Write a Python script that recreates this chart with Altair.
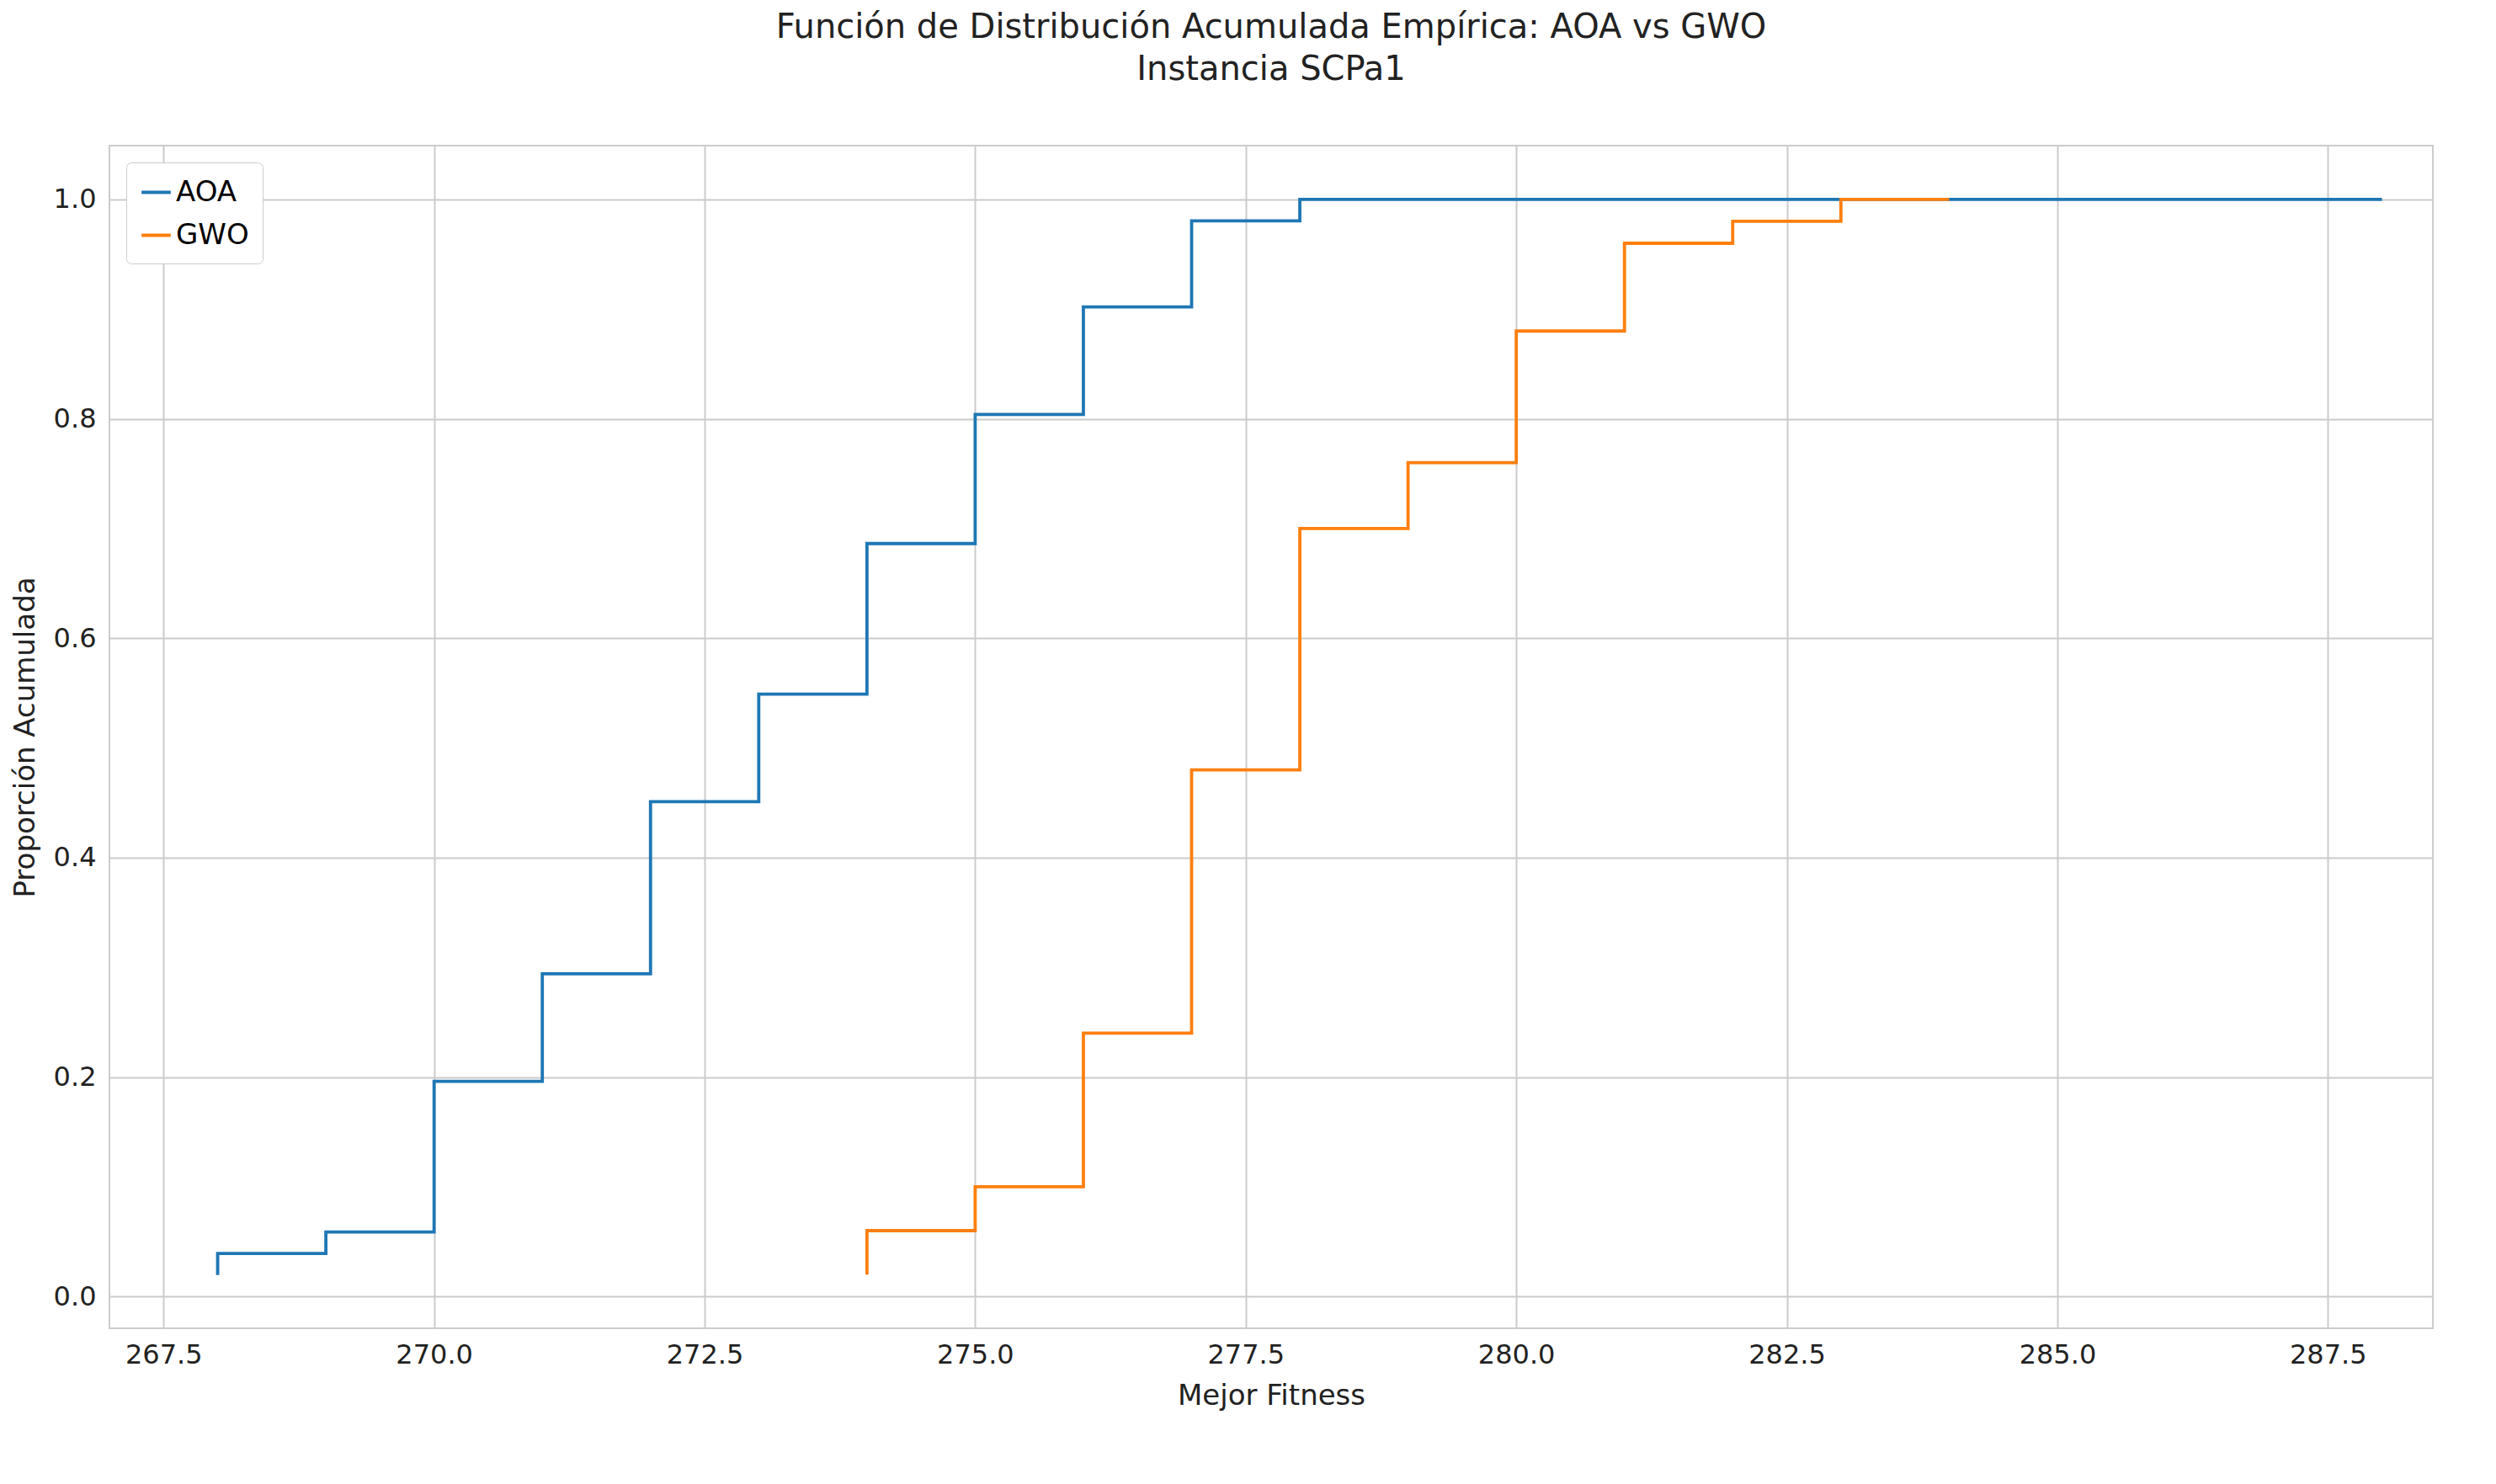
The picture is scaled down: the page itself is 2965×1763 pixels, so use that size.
import altair as alt
import pandas as pd

# distinct fitness values and how many runs hit each one (read from the ECDF steps)
aoa_values = [268, 269, 270, 271, 272, 273, 274, 275, 276, 277, 278]
aoa_counts = [2, 1, 7, 5, 8, 5, 7, 6, 5, 4, 1]
gwo_values = [274, 275, 276, 277, 278, 279, 280, 281, 282, 283]
gwo_counts = [3, 2, 7, 12, 11, 3, 6, 4, 1, 1]
# each curve is drawn on to a last point at 1.0
aoa_end = 288
gwo_end = 284


def ecdf_rows(name, values, counts, end):
    n = sum(counts)
    rows = []
    i = 0
    for v, c in zip(values, counts):
        for _ in range(c):
            i += 1
            rows.append({"alg": name, "x": v, "y": i / n, "order": i})
    rows.append({"alg": name, "x": end, "y": 1.0, "order": i + 1})
    return rows


df = pd.DataFrame(
    ecdf_rows("AOA", aoa_values, aoa_counts, aoa_end)
    + ecdf_rows("GWO", gwo_values, gwo_counts, gwo_end)
)

chart = (
    alt.Chart(
        df,
        title=alt.Title(
            ["Función de Distribución Acumulada Empírica: AOA vs GWO", "Instancia SCPa1"],
            fontSize=40,
            fontWeight="normal",
            color="#222222",
            offset=70,
            lineHeight=50,
        ),
    )
    .mark_line(interpolate="step-after", strokeWidth=3.8, clip=True)
    .encode(
        alt.X(
            "x:Q",
            title="Mejor Fitness",
            scale=alt.Scale(domain=[267.0, 288.47], nice=False, zero=False),
            axis=alt.Axis(values=[267.5 + 2.5 * k for k in range(9)], format=".1f"),
        ),
        alt.Y(
            "y:Q",
            title="Proporción Acumulada",
            scale=alt.Scale(domain=[-0.029, 1.049], nice=False),
            axis=alt.Axis(values=[0, 0.2, 0.4, 0.6, 0.8, 1.0], format=".1f"),
        ),
        alt.Color(
            "alg:N",
            title=None,
            scale=alt.Scale(domain=["AOA", "GWO"], range=["#1f77b4", "#ff7f0e"]),
            legend=alt.Legend(
                orient="top-left",
                symbolType="stroke",
                symbolStrokeWidth=3.8,
                symbolSize=1200,
                labelFontSize=34,
                strokeColor="#cccccc",
                fillColor="white",
                padding=16,
                cornerRadius=6,
                offset=20,
                rowPadding=14,
            ),
        ),
        alt.Order("order:Q"),
    )
    .properties(width=2760, height=1405)
    .configure(font="DejaVu Sans")
    .configure_view(stroke="#cccccc", strokeWidth=2)
    .configure_axis(
        grid=True,
        gridColor="#cccccc",
        gridWidth=2,
        domain=False,
        ticks=False,
        labelFontSize=32,
        labelColor="#222222",
        labelPadding=16,
        titleFontSize=34,
        titleFontWeight="normal",
        titleColor="#222222",
        titlePadding=16,
    )
)

chart.save("out.html", embed_options={"renderer": "svg", "actions": False})
